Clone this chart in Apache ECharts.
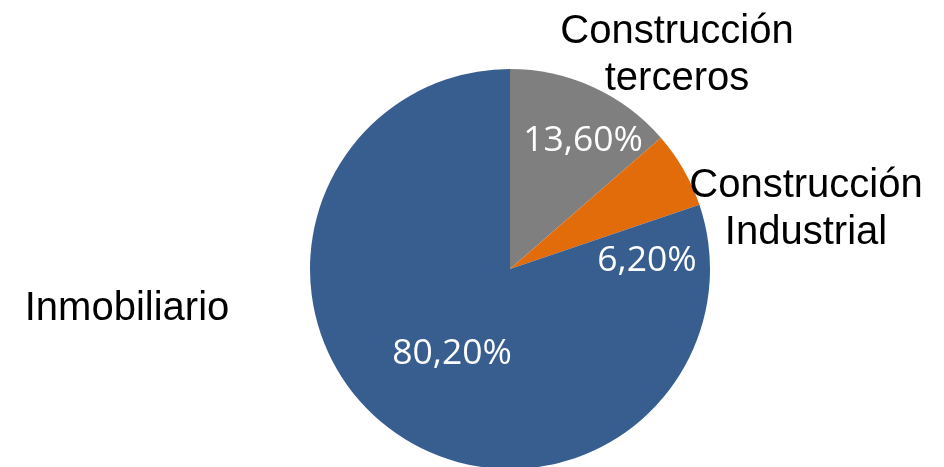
<!DOCTYPE html>
<html><head><meta charset="utf-8">
<script src="https://cdn.jsdelivr.net/npm/echarts@6/dist/echarts.min.js"></script>
<style>html,body{margin:0;padding:0;background:#fff}#c{width:944px;height:467px}</style>
</head><body><div id="c"></div>
<script>
const categories = ["Construcción terceros", "Construcción Industrial", "Inmobiliario"];
const values = [13.6, 6.2, 80.2];
const colors = ["#7F7F7F", "#E36C0A", "#375E8F"];

// label placement (layout, not data)
const innerPos = [[583, 141], [647, 261], [452, 354]];
const outerPos = [[677, 55], [806, 209], [127, 309]];

const chart = echarts.init(document.getElementById('c'), null, {renderer: 'canvas'});
const data = categories.map((n, i) => ({name: n, value: values[i], itemStyle: {color: colors[i]}}));
chart.setOption({
  animation: false,
  series: [
    {
      type: 'pie', radius: 200, center: [510, 269], startAngle: 90, clockwise: true,
      data: data, silent: true,
      itemStyle: {borderWidth: 0},
      label: {show: true, position: 'inside', color: '#fff', fontFamily: 'Open Sans', fontSize: 35.5,
        formatter: p => p.value.toFixed(2).replace('.', ',') + '%'},
      labelLine: {show: false},
      labelLayout: p => ({x: innerPos[p.dataIndex][0], y: innerPos[p.dataIndex][1], align: 'center', verticalAlign: 'middle'})
    },
    {
      type: 'pie', radius: 200, center: [510, 269], startAngle: 90, clockwise: true,
      data: categories.map((n, i) => ({name: n, value: values[i], itemStyle: {color: 'rgba(0,0,0,0)'}})),
      silent: true, z: 5,
      label: {show: true, position: 'outside', color: '#000', fontFamily: 'Liberation Sans', fontSize: 40, lineHeight: 47,
        align: 'center', overflow: 'none', width: 400, edgeDistance: 0,
        formatter: p => p.name.replace(' ', '\n')},
      labelLine: {show: false},
      labelLayout: p => ({x: outerPos[p.dataIndex][0], y: outerPos[p.dataIndex][1], align: 'center', verticalAlign: 'middle'})
    }
  ]
});
</script></body></html>
